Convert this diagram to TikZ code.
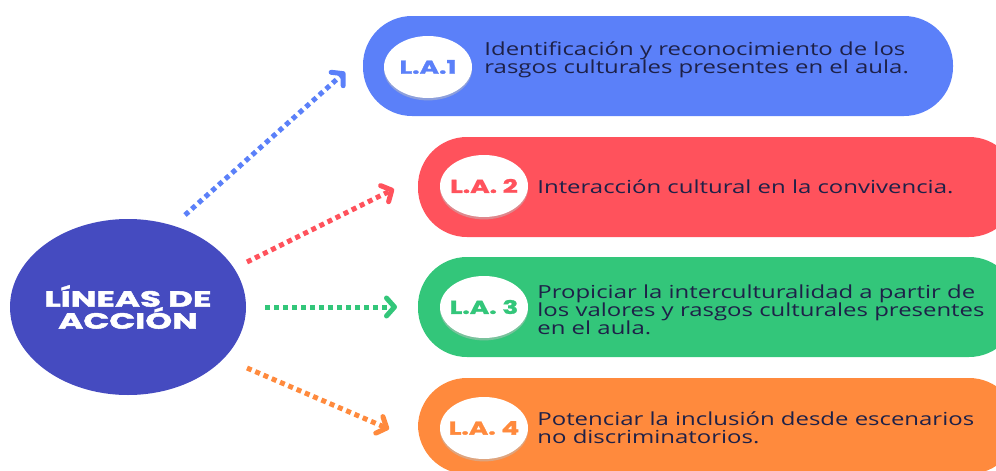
\documentclass[tikz,border=0pt]{standalone}
\usepackage{fontspec}
\setmainfont[FakeStretch=1.33]{Open Sans}
\newfontfamily\headfont[FakeStretch=1.55, FakeBold=2]{Poppins}
\newfontfamily\badgefont[FakeStretch=1.42, FakeBold=1.5]{Poppins}
\usetikzlibrary{arrows.meta,shapes.geometric,shadows}

\definecolor{la-indigo}{HTML}{454BC0}
\definecolor{la-blue}{HTML}{5B80F9}
\definecolor{la-red}{HTML}{FF525C}
\definecolor{la-green}{HTML}{33C67A}
\definecolor{la-orange}{HTML}{FF8A3D}
\definecolor{la-ink}{HTML}{1E2148}

\tikzset{
    la-pill/.style = {rectangle, rounded corners=24.5pt, minimum height=50pt, inner sep=0pt},
    la-badge/.style = {ellipse, fill=white, minimum width=44pt, minimum height=31pt, inner sep=-2.5pt, drop shadow={shadow xshift=0pt, shadow yshift=-1.2pt, fill=black!25}, font=\badgefont\bfseries\fontsize{9.3}{9.3}\selectfont},
    la-text/.style = {anchor=west, align=left, text=la-ink, inner sep=0pt, font=\fontsize{9}{9}\selectfont},
    dot-arrow/.style = {line width=2.5pt, dash pattern=on 2.5pt off 2pt, -{Straight Barb[length=4pt, width=9pt, line cap=round, line join=round]}},
}

\begin{document}
\begin{tikzpicture}[x=0.5pt, y=-0.5pt]
\clip (0,0) rectangle (996,471);

% centre
\node [ellipse, fill=la-indigo, minimum width=118pt, minimum height=88pt, inner sep=-2pt, text=white, align=center,
       font=\headfont\bfseries\fontsize{11}{11}\selectfont] (center) at (128,307) {LÍNEAS DE\\ACCIÓN};

% pills
\node [la-pill, fill=la-blue, minimum width=295pt] (pill1) at (658,66) {};
\node [la-pill, fill=la-red, minimum width=300pt] (pill2) at (718,187) {};
\node [la-pill, fill=la-green, minimum width=300pt] (pill3) at (718,307) {};
\node [la-pill, fill=la-orange, minimum width=300pt, minimum height=48pt] (pill4) at (718,426) {};

% badges
\node [la-badge, text=la-blue] (badge1) at (428,67) {L.A.1};
\node [la-badge, text=la-red] (badge2) at (484,186) {L.A. 2};
\node [la-badge, text=la-green] (badge3) at (484,307) {L.A. 3};
\node [la-badge, text=la-orange] (badge4) at (484,428) {L.A. 4};

% texts
\node [la-text] (text1) at (484,60) {Identificación y reconocimiento de los\\rasgos culturales presentes en el aula.};
\node [la-text] (text2) at (537,187) {Interacción cultural en la convivencia.};
\node [la-text] (text3) at (537,310) {Propiciar la interculturalidad a partir de\\los valores y rasgos culturales presentes\\en el aula.};
\node [la-text] (text4) at (537,428) {Potenciar la inclusión desde escenarios\\no discriminatorios.};

% arrows
\coordinate (from1) at (185,215);
\coordinate (from2) at (247,262);
\coordinate (from3) at (265,307);
\coordinate (from4) at (247,368);
\coordinate (to1) at (345,72);
\coordinate (to2) at (394,189);
\coordinate (to3) at (397,307);
\coordinate (to4) at (389,429);
\draw [dot-arrow, la-blue] (from1) -- (to1);
\draw [dot-arrow, la-red] (from2) -- (to2);
\draw [dot-arrow, la-green] (from3) -- (to3);
\draw [dot-arrow, la-orange] (from4) -- (to4);
\end{tikzpicture}
\end{document}
